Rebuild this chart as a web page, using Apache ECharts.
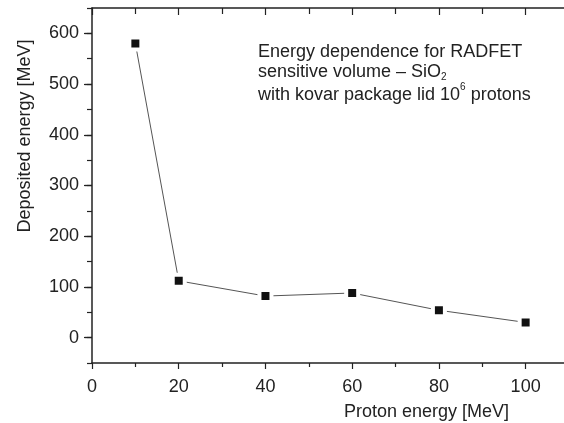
<!DOCTYPE html>
<html><head><meta charset="utf-8">
<script src="https://cdn.jsdelivr.net/npm/echarts@6/dist/echarts.min.js"></script>
<style>html,body{margin:0;padding:0;background:#fff}#c{width:564px;height:423px}</style>
</head><body><div id="c"></div>
<script>
const protonEnergy = [10, 20, 40, 60, 80, 100];
const depositedEnergy = [580, 112, 82, 88, 54, 30];
const yTickLabels = [0, 100, 200, 300, 400, 500, 600];
const annotationLines = [
  'Energy dependence for RADFET',
  'sensitive volume \u2013 SiO{sub|2}',
  'with kovar package lid 10{sup|6} protons'
];

const FONT = 'Liberation Sans';
const TXT = '#222';
const AX = '#222';
const chart = echarts.init(document.getElementById('c'), null, {renderer: 'canvas'});

const yBase = {min: -50, max: 650, interval: 50, splitLine: {show: false}};

chart.setOption({
  animation: false,
  backgroundColor: '#fff',
  title: {
    left: 258, top: 42, padding: 0,
    text: annotationLines.join('\n'),
    textStyle: {
      fontFamily: FONT, fontSize: 18, fontWeight: 'normal', color: TXT, lineHeight: 20,
      rich: {
        sub: {fontFamily: FONT, fontSize: 10, color: TXT, verticalAlign: 'bottom', lineHeight: 14},
        sup: {fontFamily: FONT, fontSize: 10, color: TXT, verticalAlign: 'top', lineHeight: 26}
      }
    }
  },
  grid: {left: 92, top: 8, width: 477, height: 355, containLabel: false, outerBoundsMode: 'none'},
  xAxis: [
    {
      type: 'value', position: 'bottom', min: 0, max: 110, interval: 20,
      name: 'Proton energy [MeV]', nameLocation: 'middle', nameGap: 40,
      nameTextStyle: {fontFamily: FONT, fontSize: 18, color: TXT, padding: [0, 0, 0, 192]},
      axisLine: {show: true, onZero: false, lineStyle: {color: AX, width: 1.5}},
      axisTick: {show: true, inside: false, length: 6, lineStyle: {color: AX, width: 1.2}},
      minorTick: {show: true, splitNumber: 2, length: 4, lineStyle: {color: AX, width: 1.2}},
      axisLabel: {fontFamily: FONT, fontSize: 18, color: TXT, margin: 15, showMaxLabel: false},
      splitLine: {show: false}
    },
    {
      type: 'value', position: 'top', min: 0, max: 110, interval: 20,
      axisLine: {show: true, onZero: false, lineStyle: {color: AX, width: 1.5}},
      axisTick: {show: true, inside: true, length: 7, lineStyle: {color: AX, width: 1.2}},
      minorTick: {show: true, splitNumber: 2, length: 6, lineStyle: {color: AX, width: 1.2}},
      axisLabel: {show: false},
      splitLine: {show: false}
    }
  ],
  yAxis: [
    Object.assign({}, yBase, {
      type: 'value', position: 'left',
      name: 'Deposited energy [MeV]', nameLocation: 'middle', nameGap: 58,
      nameTextStyle: {fontFamily: FONT, fontSize: 18, color: TXT, padding: [0, 0, 0, 99]},
      axisLine: {show: true, onZero: false, lineStyle: {color: AX, width: 1.5}},
      axisTick: {show: true, inside: false, length: 5, lineStyle: {color: AX, width: 1.2}},
      axisLabel: {show: false}
    }),
    Object.assign({}, yBase, {
      type: 'value', position: 'left',
      axisLine: {show: false},
      axisTick: {show: true, inside: false, length: 7, customValues: yTickLabels, lineStyle: {color: AX, width: 1.2}},
      axisLabel: {show: true, customValues: yTickLabels, fontFamily: FONT, fontSize: 18, color: TXT, margin: 13}
    }),
    Object.assign({}, yBase, {
      type: 'value', position: 'right',
      axisLine: {show: true, onZero: false, lineStyle: {color: AX, width: 1.5}},
      axisTick: {show: true, inside: true, length: 5, lineStyle: {color: '#bbb', width: 1.2}},
      axisLabel: {show: false}
    }),
    Object.assign({}, yBase, {
      type: 'value', position: 'right',
      axisLine: {show: false},
      axisTick: {show: true, inside: true, length: 8, customValues: yTickLabels, lineStyle: {color: AX, width: 1.2}},
      axisLabel: {show: false}
    })
  ],
  series: [{
    type: 'line',
    xAxisIndex: 0, yAxisIndex: 0,
    data: protonEnergy.map((x, i) => [x, depositedEnergy[i]]),
    symbol: 'rect', symbolSize: 12,
    lineStyle: {color: '#555', width: 1},
    itemStyle: {color: '#111', borderColor: '#fff', borderWidth: 4},
    emphasis: {disabled: true}
  }]
});
</script>
</body></html>
